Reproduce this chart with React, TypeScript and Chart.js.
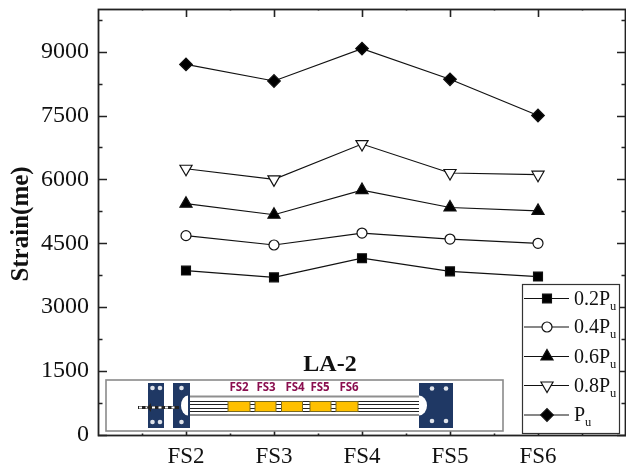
import React, { useEffect, useRef } from "react";
import { Chart, registerables } from "chart.js";
import { drawPoint } from "chart.js/helpers";

Chart.register(...registerables);

const categories = ["FS2", "FS3", "FS4", "FS5", "FS6"];
const p02 = [3860, 3700, 4150, 3840, 3720];
const p04 = [4680, 4460, 4740, 4600, 4500];
const p06 = [5430, 5170, 5750, 5340, 5260];
const p08 = [6250, 6000, 6830, 6150, 6110];
const p10 = [8700, 8310, 9070, 8350, 7500];
const seriesLabels = ["0.2P", "0.4P", "0.6P", "0.8P", "P"];
const subscript = "u";
const yTitle = "Strain(me)";
const insetTitle = "LA-2";
const insetLabels = ["FS2", "FS3", "FS4", "FS5", "FS6"];
const yTickValues = [0, 750, 1500, 2250, 3000, 3750, 4500, 5250, 6000, 6750, 7500, 8250, 9000, 9750];
const xTickValues = [-0.5, 0, 0.5, 1, 1.5, 2, 2.5, 3, 3.5, 4, 4.5];

const SERIF = "'Liberation Serif', serif";
const INK = "#111";

const frameTicks = {
  id: "frameTicks",
  afterDatasetsDraw(chart: any) {
    const { ctx, chartArea: a, scales } = chart;
    ctx.save();
    ctx.strokeStyle = "#222";
    ctx.lineWidth = 1.6;
    ctx.beginPath();
    for (const t of scales.y.ticks) {
      const y = Math.round(scales.y.getPixelForValue(t.value)) + 0.5;
      const len = t.value % 1500 === 0 ? 9 : 4.5;
      ctx.moveTo(a.left, y);
      ctx.lineTo(a.left + len, y);
      ctx.moveTo(a.right, y);
      ctx.lineTo(a.right - len, y);
    }
    for (const t of scales.x.ticks) {
      const x = Math.round(scales.x.getPixelForValue(t.value)) + 0.5;
      const len = Number.isInteger(t.value) ? 8 : 1.5;
      ctx.moveTo(x, a.bottom);
      ctx.lineTo(x, a.bottom - len);
      ctx.moveTo(x, a.top);
      ctx.lineTo(x, a.top + len);
    }
    ctx.stroke();
    ctx.lineWidth = 1.8;
    ctx.strokeRect(a.left + 0.5, a.top + 0.5, a.right - a.left - 1, a.bottom - a.top);

    ctx.save();
    ctx.translate(22, 224);
    ctx.rotate(-Math.PI / 2);
    ctx.fillStyle = INK;
    ctx.font = `bold 25px ${SERIF}`;
    ctx.textAlign = "center";
    ctx.textBaseline = "middle";
    ctx.fillText(yTitle, 0, 0);
    ctx.restore();
    ctx.restore();
  },
};

const insetDiagram = {
  id: "insetDiagram",
  afterDraw(chart: any) {
    const { ctx } = chart;
    const NAVY = "#1f3864";
    ctx.save();
    ctx.fillStyle = "#fff";
    ctx.fillRect(106, 380, 397, 51);
    ctx.strokeStyle = "#8a8a8a";
    ctx.lineWidth = 1.6;
    ctx.strokeRect(106, 380, 397, 51);

    ctx.fillStyle = INK;
    ctx.font = `bold 24px ${SERIF}`;
    ctx.textAlign = "center";
    ctx.textBaseline = "middle";
    ctx.fillText(insetTitle, 330, 365);

    // tube
    ctx.fillStyle = "#fff";
    ctx.fillRect(187, 396, 236, 19);
    ctx.fillStyle = "#8f8f8f";
    ctx.fillRect(187, 395.5, 236, 2);
    ctx.fillRect(187, 414, 236, 2);
    ctx.fillStyle = "#222";
    [401, 404, 408, 411].forEach((y) => ctx.fillRect(187, y, 236, 1));

    // plates
    ctx.fillStyle = NAVY;
    ctx.fillRect(148, 383, 16, 45);
    ctx.fillRect(173, 383, 17, 45);
    ctx.fillRect(419, 383, 34, 45);
    ctx.fillStyle = "#fff";
    ctx.beginPath();
    ctx.ellipse(188, 405.5, 7, 10, 0, Math.PI / 2, (3 * Math.PI) / 2);
    ctx.fill();
    ctx.beginPath();
    ctx.ellipse(419, 405.5, 8, 10, 0, -Math.PI / 2, Math.PI / 2);
    ctx.fill();
    ctx.fillStyle = "#dfe3ea";
    const bolts = [
      [152.5, 388], [160, 388], [152.5, 422], [160, 422],
      [181.5, 388], [181.5, 422],
      [432, 388.5], [446, 388.5], [432, 421], [446, 421],
    ];
    bolts.forEach(([x, y]) => {
      ctx.beginPath();
      ctx.arc(x, y, 2.3, 0, Math.PI * 2);
      ctx.fill();
    });

    // rod
    ctx.fillStyle = "#222";
    ctx.fillRect(138, 406, 41, 3);
    ctx.fillStyle = "#fff";
    for (let x = 139; x < 178; x += 6.5) ctx.fillRect(x, 406.5, 3, 2);
    ctx.fillStyle = "#222";
    ctx.beginPath();
    ctx.moveTo(147, 407.5);
    ctx.lineTo(151, 403);
    ctx.lineTo(151, 412);
    ctx.fill();

    // gauges
    const boxes = [[228, 22], [255, 21], [281.5, 21], [310, 21], [336, 22]];
    const labelX = [239, 266, 295, 320, 349];
    boxes.forEach(([x, w]) => {
      ctx.fillStyle = "#ffc000";
      ctx.fillRect(x, 401.5, w, 10);
      ctx.strokeStyle = "#7a6a20";
      ctx.lineWidth = 1;
      ctx.strokeRect(x, 401.5, w, 10);
    });
    ctx.fillStyle = "#8a0f4f";
    ctx.font = "bold 11.5px 'Open Sans', sans-serif";
    insetLabels.forEach((s, i) => ctx.fillText(s, labelX[i], 388));
    ctx.restore();
  },
};

const customLegend = {
  id: "customLegend",
  afterDraw(chart: any) {
    const { ctx } = chart;
    ctx.save();
    ctx.fillStyle = "#fff";
    ctx.fillRect(522.5, 284.5, 97, 149);
    ctx.strokeStyle = "#333";
    ctx.lineWidth = 1.2;
    ctx.strokeRect(522.5, 284.5, 97, 149);
    const rows = [298.5, 327, 356.5, 385.5, 415];
    chart.data.datasets.forEach((d: any, i: number) => {
      const y = rows[i];
      ctx.strokeStyle = "#111";
      ctx.lineWidth = 1.2;
      ctx.beginPath();
      ctx.moveTo(524, y);
      ctx.lineTo(569, y);
      ctx.stroke();
      ctx.fillStyle = d.pointBackgroundColor;
      ctx.strokeStyle = "#111";
      ctx.lineWidth = 1.2;
      drawPoint(ctx, { pointStyle: d.pointStyle, radius: d.pointRadius, rotation: d.pointRotation || 0, borderWidth: 1.2 }, 547, y);
      ctx.fillStyle = INK;
      ctx.textBaseline = "alphabetic";
      ctx.textAlign = "left";
      ctx.font = `20px ${SERIF}`;
      ctx.fillText(d.label, 574, y + 6);
      const w = ctx.measureText(d.label).width;
      ctx.font = `12.5px ${SERIF}`;
      ctx.fillText(subscript, 574 + w, y + 11);
    });
    ctx.restore();
  },
};

function ds(label: string, data: number[], pointStyle: string, radius: number, fill: string, rotation = 0) {
  return {
    label,
    data: data.map((y, i) => ({ x: i, y })),
    borderColor: "#111",
    borderWidth: 1.2,
    tension: 0,
    pointStyle,
    pointRadius: radius,
    pointHoverRadius: radius,
    pointBackgroundColor: fill,
    pointBorderColor: "#111",
    pointBorderWidth: 1.2,
    pointRotation: rotation,
    clip: false,
  };
}

export default function App() {
  const ref = useRef<HTMLCanvasElement>(null);
  useEffect(() => {
    const chart = new Chart(ref.current!, {
      type: "line",
      data: {
        datasets: [
          ds(seriesLabels[0], p02, "rect", 6.3, "#000"),
          ds(seriesLabels[1], p04, "circle", 5, "#fff"),
          ds(seriesLabels[2], p06, "triangle", 7, "#000"),
          ds(seriesLabels[3], p08, "triangle", 7, "#fff", 180),
          ds(seriesLabels[4], p10, "rectRot", 6.3, "#000"),
        ] as any,
      },
      options: {
        responsive: false,
        animation: false,
        layout: { autoPadding: false, padding: { top: 9, right: 0, left: 0, bottom: 0 } },
        plugins: { legend: { display: false }, tooltip: { enabled: false } },
        scales: {
          x: {
            type: "linear",
            min: -1,
            max: 5,
            grid: { display: false, drawTicks: false },
            border: { display: false },
            afterBuildTicks: (s: any) => { s.ticks = xTickValues.map((value) => ({ value })); },
            afterFit: (s: any) => { s.height = 34; s.paddingLeft = 0; s.paddingRight = 0; },
            ticks: {
              autoSkip: false,
              maxRotation: 0,
              padding: 8,
              color: INK,
              font: { family: SERIF, size: 23 },
              callback: (v: any) => (Number.isInteger(v) && categories[v] ? categories[v] : ""),
            },
          },
          y: {
            min: 0,
            max: 10000,
            grid: { display: false, drawTicks: false },
            border: { display: false },
            afterBuildTicks: (s: any) => { s.ticks = yTickValues.map((value) => ({ value })); },
            afterFit: (s: any) => { s.width = 98; s.paddingTop = 0; s.paddingBottom = 0; },
            ticks: {
              autoSkip: false,
              padding: 9,
              color: INK,
              font: { family: SERIF, size: 24 },
              callback: (v: any) => (v % 1500 === 0 ? String(v) : ""),
            },
          },
        },
      } as any,
      plugins: [frameTicks, insetDiagram, customLegend],
    });
    return () => chart.destroy();
  }, []);
  return (
    <canvas
      ref={ref}
      width={626}
      height={469}
      style={{ position: "absolute", left: 0, top: 0, display: "block" }}
    />
  );
}
